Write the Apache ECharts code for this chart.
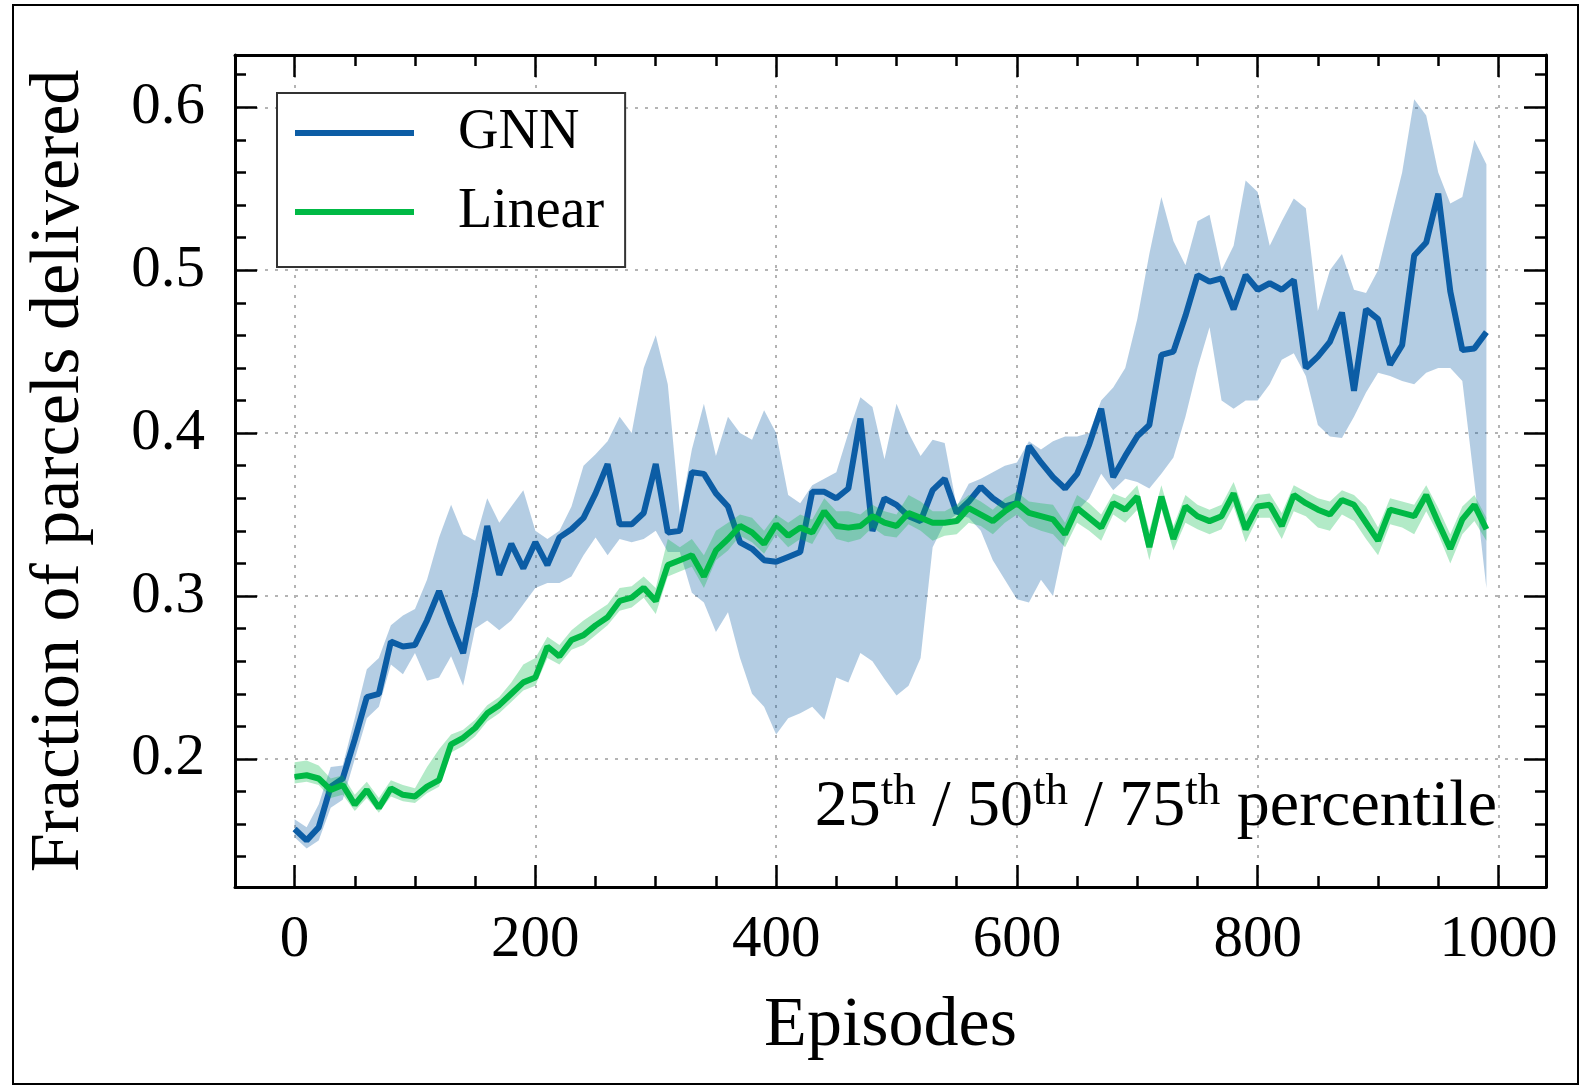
<!DOCTYPE html>
<html><head><meta charset="utf-8">
<script src="https://cdn.jsdelivr.net/npm/echarts@6/dist/echarts.min.js"></script>
<style>html,body{margin:0;padding:0;background:#fff}#c{width:1580px;height:1086px}</style>
</head><body><div id="c"></div>
<script>
// ---------------- data ----------------
const episodes = [0,10,20,30,40,50,60,70,80,90,100,110,120,130,140,150,160,170,180,190,
200,210,220,230,240,250,260,270,280,290,300,310,320,330,340,350,360,370,380,390,
400,410,420,430,440,450,460,470,480,490,500,510,520,530,540,550,560,570,580,590,
600,610,620,630,640,650,660,670,680,690,700,710,720,730,740,750,760,770,780,790,
800,810,820,830,840,850,860,870,880,890,900,910,920,930,940,950,960,970,980,990];

const gnnMedian = [0.157,0.150,0.158,0.183,0.188,0.212,0.238,0.240,0.272,0.269,
0.270,0.285,0.303,0.283,0.265,0.302,0.343,0.313,0.332,0.317,
0.333,0.319,0.336,0.341,0.348,0.363,0.381,0.344,0.344,0.351,
0.381,0.339,0.340,0.376,0.375,0.363,0.355,0.333,0.329,0.322,
0.321,0.324,0.327,0.364,0.364,0.360,0.366,0.409,0.340,0.360,
0.356,0.349,0.346,0.365,0.372,0.351,0.358,0.367,0.360,0.355,
0.357,0.392,0.382,0.373,0.366,0.375,0.393,0.415,0.373,0.386,
0.398,0.405,0.448,0.450,0.472,0.497,0.493,0.495,0.476,0.497,
0.488,0.492,0.488,0.494,0.440,0.447,0.456,0.474,0.426,0.476,
0.470,0.442,0.454,0.509,0.517,0.547,0.487,0.451,0.452,0.462];

const gnnLower = [0.152,0.145,0.150,0.170,0.175,0.200,0.225,0.232,0.258,0.252,
0.265,0.248,0.250,0.263,0.245,0.280,0.285,0.279,0.285,0.295,
0.305,0.308,0.308,0.312,0.325,0.336,0.325,0.335,0.333,0.335,
0.340,0.327,0.327,0.302,0.296,0.278,0.290,0.262,0.240,0.232,
0.215,0.225,0.228,0.232,0.224,0.250,0.247,0.265,0.260,0.249,
0.239,0.245,0.262,0.330,0.345,0.350,0.348,0.340,0.322,0.310,
0.298,0.296,0.310,0.300,0.335,0.352,0.360,0.375,0.365,0.372,
0.370,0.366,0.375,0.385,0.410,0.440,0.465,0.420,0.415,0.420,
0.420,0.430,0.445,0.449,0.435,0.405,0.398,0.397,0.410,0.425,
0.437,0.435,0.432,0.430,0.437,0.440,0.440,0.432,0.370,0.305];

const gnnUpper = [0.163,0.158,0.172,0.195,0.196,0.225,0.255,0.262,0.282,0.288,
0.292,0.310,0.336,0.356,0.338,0.334,0.360,0.345,0.355,0.365,
0.340,0.335,0.340,0.355,0.380,0.387,0.395,0.410,0.400,0.440,
0.460,0.430,0.350,0.390,0.418,0.386,0.410,0.400,0.396,0.414,
0.400,0.362,0.357,0.368,0.372,0.376,0.400,0.422,0.416,0.384,
0.418,0.400,0.386,0.396,0.394,0.355,0.369,0.372,0.376,0.380,
0.382,0.395,0.390,0.395,0.398,0.398,0.400,0.420,0.428,0.440,
0.470,0.510,0.545,0.518,0.503,0.530,0.534,0.500,0.515,0.555,
0.548,0.515,0.530,0.544,0.538,0.475,0.500,0.510,0.488,0.486,
0.500,0.530,0.560,0.605,0.595,0.560,0.541,0.545,0.580,0.565];

const linMedian = [0.189,0.190,0.188,0.181,0.184,0.172,0.181,0.170,0.182,0.178,
0.177,0.183,0.187,0.209,0.213,0.219,0.228,0.233,0.240,0.247,
0.250,0.269,0.263,0.273,0.276,0.282,0.287,0.297,0.299,0.305,
0.297,0.319,0.322,0.325,0.312,0.328,0.335,0.343,0.339,0.332,
0.344,0.337,0.342,0.339,0.352,0.343,0.342,0.343,0.349,0.345,
0.343,0.351,0.348,0.345,0.345,0.346,0.354,0.350,0.346,0.352,
0.357,0.351,0.349,0.347,0.338,0.354,0.348,0.342,0.357,0.353,
0.361,0.330,0.361,0.335,0.355,0.349,0.346,0.349,0.363,0.341,
0.355,0.356,0.343,0.362,0.357,0.353,0.350,0.359,0.356,0.345,
0.334,0.353,0.351,0.349,0.362,0.345,0.329,0.347,0.356,0.341];

const linLower = [0.185,0.186,0.184,0.176,0.178,0.168,0.176,0.167,0.177,0.174,
0.173,0.179,0.183,0.204,0.208,0.214,0.223,0.228,0.235,0.242,
0.245,0.262,0.258,0.267,0.270,0.276,0.282,0.291,0.293,0.299,
0.289,0.312,0.315,0.318,0.305,0.322,0.328,0.337,0.333,0.326,
0.338,0.330,0.335,0.332,0.345,0.335,0.333,0.335,0.342,0.337,
0.336,0.344,0.340,0.334,0.337,0.338,0.345,0.343,0.338,0.345,
0.350,0.343,0.340,0.338,0.330,0.345,0.340,0.334,0.350,0.345,
0.353,0.322,0.353,0.328,0.345,0.341,0.338,0.341,0.355,0.333,
0.348,0.348,0.335,0.352,0.349,0.342,0.340,0.350,0.346,0.335,
0.325,0.344,0.342,0.338,0.352,0.338,0.320,0.338,0.346,0.334];

const linUpper = [0.198,0.199,0.196,0.188,0.190,0.178,0.186,0.176,0.187,0.184,
0.182,0.195,0.206,0.215,0.218,0.224,0.233,0.238,0.247,0.258,
0.262,0.275,0.270,0.279,0.285,0.290,0.295,0.305,0.306,0.312,
0.305,0.335,0.330,0.335,0.325,0.340,0.345,0.350,0.348,0.340,
0.350,0.345,0.350,0.347,0.360,0.352,0.352,0.350,0.356,0.352,
0.350,0.362,0.358,0.352,0.352,0.356,0.362,0.358,0.353,0.360,
0.364,0.358,0.357,0.356,0.345,0.362,0.357,0.350,0.363,0.360,
0.368,0.340,0.368,0.343,0.362,0.356,0.353,0.356,0.370,0.350,
0.362,0.363,0.351,0.368,0.364,0.360,0.358,0.365,0.362,0.355,
0.342,0.360,0.358,0.356,0.368,0.354,0.338,0.355,0.362,0.348];

const seriesNames = ['GNN', 'Linear'];
const xTickStep = 200, xMinorStep = 50;
const yTickStep = 0.1, yMinorStep = 0.02;
const xName = 'Episodes';
const yName = 'Fraction of parcels delivered';
const noteText = '25{s|th} / 50{s|th} / 75{s|th} percentile';

// ---------------- chart ----------------
const XMIN = -49.5, XMAX = 1039.5, YMIN = 0.1214, YMAX = 0.6321;
const FONT = '"Liberation Serif", "DejaVu Serif", serif';
const BLUE = '#0C5DA5', GREEN = '#00B945';

const pairs = ys => episodes.map((x, i) => [x, ys[i]]);

const tickLine = {color: '#000', width: 2.5};
const gridLine = {type: [3, 7], color: '#b4b4b4', width: 2};
function xAxisDef(pos, step, len, withLabels, withGrid, withLine) {
  return {
    type: 'value', position: pos, min: XMIN, max: XMAX,
    minInterval: step, maxInterval: step,
    axisLine: {show: withLine, onZero: false, lineStyle: {color: '#000', width: 3}},
    axisTick: {show: true, inside: true, length: len, lineStyle: tickLine},
    splitLine: {show: withGrid, lineStyle: gridLine},
    axisLabel: withLabels ? {
      show: true, fontFamily: FONT, fontSize: 59, color: '#000', margin: 24,
      formatter: v => (Math.abs(v / step - Math.round(v / step)) < 1e-6 ? String(Math.round(v)) : '')
    } : {show: false},
    name: withLabels ? xName : '',
    nameLocation: 'middle', nameGap: 105,
    nameTextStyle: {fontFamily: FONT, fontSize: 70, color: '#000'}
  };
}
function yAxisDef(pos, step, len, withLabels, withGrid, withLine) {
  return {
    type: 'value', position: pos, min: YMIN, max: YMAX,
    minInterval: step, maxInterval: step,
    axisLine: {show: withLine, onZero: false, lineStyle: {color: '#000', width: 3}},
    axisTick: {show: true, inside: true, length: len, lineStyle: tickLine},
    splitLine: {show: withGrid, lineStyle: gridLine},
    axisLabel: withLabels ? {
      show: true, fontFamily: FONT, fontSize: 59, color: '#000', margin: 30,
      formatter: v => (Math.abs(v / step - Math.round(v / step)) < 1e-6 ? v.toFixed(1) : '')
    } : {show: false},
    name: withLabels ? yName : '',
    nameLocation: 'middle', nameGap: 140, nameRotate: 90,
    nameTextStyle: {fontFamily: FONT, fontSize: 70, color: '#000'}
  };
}

// shaded 25th-75th percentile band, drawn as one polygon through the axes' scales
function bandSeries(name, lo, hi, color, z) {
  return {
    type: 'custom', name: name, silent: true, z: z, clip: true,
    data: episodes.map((x, i) => [x, lo[i], hi[i]]),
    encode: {x: 0, y: [1, 2]},
    renderItem: (params, api) => {
      if (params.dataIndex !== 0) return {type: 'group', children: []};
      const top = episodes.map((x, i) => api.coord([x, hi[i]]));
      const bot = episodes.map((x, i) => api.coord([x, lo[i]])).reverse();
      return {type: 'polygon', shape: {points: top.concat(bot)}, style: {fill: color}};
    }
  };
}

const chart = echarts.init(document.getElementById('c'), null, {renderer: 'canvas'});
chart.setOption({
  animation: false,
  backgroundColor: '#fff',
  grid: {left: 235, top: 55, width: 1311, height: 832, containLabel: false},
  xAxis: [
    xAxisDef('bottom', xTickStep, 22, true, true, true),
    xAxisDef('bottom', xMinorStep, 11, false, false, false),
    xAxisDef('top', xTickStep, 22, false, false, true),
    xAxisDef('top', xMinorStep, 11, false, false, false)
  ],
  yAxis: [
    yAxisDef('left', yTickStep, 22, true, true, true),
    yAxisDef('left', yMinorStep, 11, false, false, false),
    yAxisDef('right', yTickStep, 22, false, false, true),
    yAxisDef('right', yMinorStep, 11, false, false, false)
  ],
  legend: {
    data: seriesNames, orient: 'vertical', left: 277, top: 93,
    icon: 'rect', itemWidth: 119, itemHeight: 6, itemGap: 15,
    padding: [8, 21, 23, 18], borderColor: '#333', borderWidth: 2, borderRadius: 0,
    backgroundColor: '#fff',
    textStyle: {fontFamily: FONT, fontSize: 56, lineHeight: 64, color: '#000', padding: [0, 0, 0, 39]},
    selectedMode: false
  },
  series: [
    bandSeries('gnnBand', gnnLower, gnnUpper, 'rgba(12,93,165,0.31)', 1),
    {type: 'line', name: seriesNames[0], data: pairs(gnnMedian), symbol: 'none',
     lineStyle: {color: BLUE, width: 6}, itemStyle: {color: BLUE}, z: 2},
    bandSeries('linBand', linLower, linUpper, 'rgba(0,185,69,0.30)', 3),
    {type: 'line', name: seriesNames[1], data: pairs(linMedian), symbol: 'none',
     lineStyle: {color: GREEN, width: 6}, itemStyle: {color: GREEN}, z: 4}
  ],
  graphic: [
    {type: 'rect', shape: {x: 13, y: 5, width: 1565, height: 1079},
     style: {fill: 'none', stroke: '#000', lineWidth: 2}, silent: true, z: 100},
    {type: 'text', x: 1497, y: 808, z: 50,
     style: {text: noteText, align: 'right', verticalAlign: 'middle',
       font: '66px ' + FONT, fill: '#000', lineHeight: 76,
       rich: {s: {fontSize: 45, fontFamily: FONT, fill: '#000', verticalAlign: 'top', lineHeight: 50}}}}
  ]
});
</script></body></html>
